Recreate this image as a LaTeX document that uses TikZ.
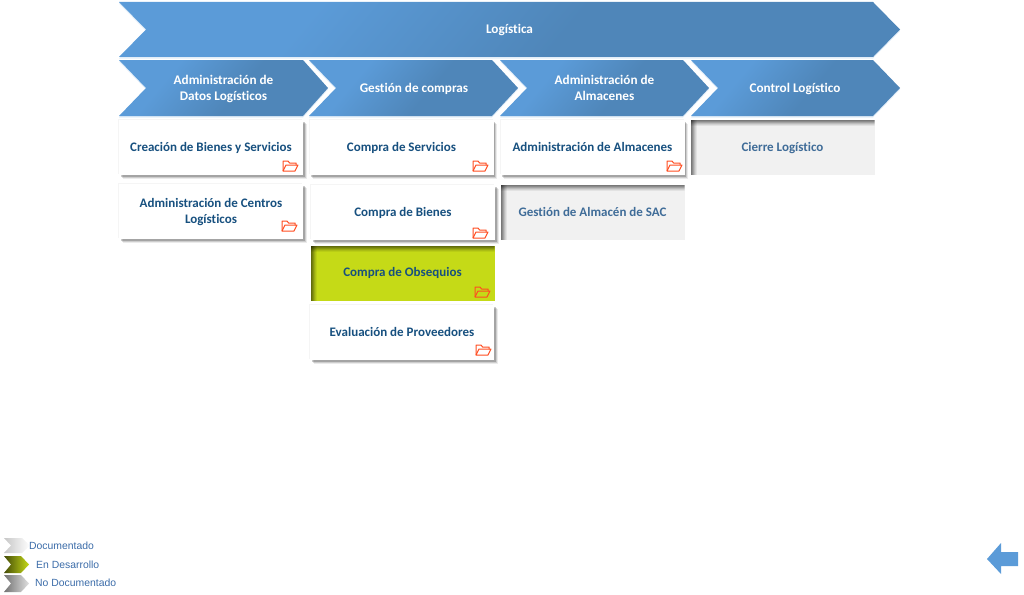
\documentclass[tikz,border=0pt]{standalone}
\usepackage{fontspec}
\setmainfont[Ligatures=NoCommon]{Carlito}
\newfontfamily\legendfont{Liberation Sans}
\usetikzlibrary{shadows}
\definecolor{chevlight}{HTML}{5B9BD8}
\definecolor{chevdark}{HTML}{4F86B9}
\definecolor{txtdark}{HTML}{17507F}
\definecolor{txtgrey}{HTML}{3F6C98}
\definecolor{boxgrey}{HTML}{F1F1F1}
\definecolor{boxgreen}{HTML}{C5DA17}
\definecolor{folderred}{HTML}{FF4D21}
\definecolor{legendtxt}{HTML}{3A6BA8}
\pgfdeclareverticalshading{chevshade}{100bp}{color(0bp)=(chevdark); color(45bp)=(chevdark); color(68bp)=(chevlight); color(100bp)=(chevlight)}
\tikzset{
  softshadow/.style={
    drop shadow={shadow xshift=-1pt,shadow yshift=1pt,fill=black,opacity=0.04},
    drop shadow={shadow xshift=3.5pt,shadow yshift=-3.5pt,fill=black,opacity=0.08},
    drop shadow={shadow xshift=2.5pt,shadow yshift=-2.5pt,fill=black,opacity=0.13},
    drop shadow={shadow xshift=1.5pt,shadow yshift=-1.5pt,fill=black,opacity=0.20}},
  innershade/.style={path picture={
    \foreach \i/\o in {0/.50,1/.42,2/.32,3/.22,4/.13,5/.06}{
      \fill[black,opacity=\o] ([yshift=-\i pt]path picture bounding box.north west) rectangle ([yshift=-\i pt-1pt]path picture bounding box.north east);
      \fill[black,opacity=\o] ([xshift=\i pt]path picture bounding box.north west) rectangle ([xshift=\i pt+1pt]path picture bounding box.south west);
    }}},
  chevblue/.style={shading=chevshade,shading angle=50,
    drop shadow={shadow xshift=0pt,shadow yshift=-1.5pt,fill=chevlight!25!white,opacity=0.7}},
  chevtext/.style={text=white,align=center,font=\fontsize{13.2}{16}\selectfont\bfseries},
  boxbase/.style={minimum width=184pt,minimum height=55pt,inner sep=0pt,align=center,
    text height=11pt,text depth=3.5pt,font=\fontsize{13}{16}\selectfont\bfseries},
  boxdoc/.style={boxbase,fill=white,text=txtdark,softshadow},
  boxnone/.style={boxbase,fill=boxgrey,text=txtgrey,innershade},
  boxdev/.style={boxbase,fill=boxgreen,text=txtdark,innershade},
  legendtext/.style={text=legendtxt,inner sep=0pt,font=\fontsize{10.4}{12}\legendfont},
  folderico/.pic={
    \draw[folderred,line width=1pt,line join=round]
      (0,11) -- (0,1) -- (5,1) -- (6.5,3) -- (13,3) -- (13,5);
    \draw[folderred,line width=1pt,line join=round] (0,11) -- (3,5) -- (15,5) -- (12,11) -- cycle;
  }
}
\begin{document}
\begin{tikzpicture}[x=1pt,y=-1pt]
  \useasboundingbox (0,0) rectangle (1024,594);
  \draw[chevblue,draw=none] (119,2) -- (873,2) -- (900,29.5) -- (873,57) -- (119,57) -- (146,29.5) -- cycle;
  \node[chevtext] at (509.5,30) (logistica) {Logística};

  \draw[chevblue,draw=none] (119,60) -- (303,60) -- (328,88) -- (303,116) -- (119,116) -- (146,88) -- cycle;
  \draw[chevblue,draw=none] (309,60) -- (492,60) -- (518,88) -- (492,116) -- (309,116) -- (336,88) -- cycle;
  \draw[chevblue,draw=none] (500,60) -- (683,60) -- (709,88) -- (683,116) -- (500,116) -- (527,88) -- cycle;
  \draw[chevblue,draw=none] (691,60) -- (873,60) -- (900,88) -- (873,116) -- (691,116) -- (718,88) -- cycle;
  \node[chevtext] at (223.5,89) (datos) {Administración de\\Datos Logísticos};
  \node[chevtext] at (414,89) (compras) {Gestión de compras};
  \node[chevtext] at (604.5,87.5) (almacenes) {Administración de\\Almacenes};
  \node[chevtext] at (795,89) (control) {Control Logístico};

  \node[boxdoc] at (211,147.5) (creacion) {Creación de Bienes y Servicios};
  \node[boxdoc,text height=26pt,text depth=3pt] at (211,211.5) (centros) {Administración de Centros\\Logísticos};
  \node[boxdoc] at (401.5,147.5) (servicios) {Compra de Servicios};
  \node[boxdoc] at (403,212.5) (bienes) {Compra de Bienes};
  \node[boxdev] at (402.5,273) (obsequios) {Compra de Obsequios};
  \node[boxdoc] at (402,332.5) (proveedores) {Evaluación de Proveedores};
  \node[boxdoc] at (592.5,147.5) (admalm) {Administración de Almacenes};
  \node[boxnone] at (592.5,212.5) (sac) {Gestión de Almacén de SAC};
  \node[boxnone] at (782.5,147.5) (cierre) {Cierre Logístico};

  \pic at (283,160) {folderico};
  \pic at (282,220) {folderico};
  \pic at (473,160) {folderico};
  \pic at (473,227) {folderico};
  \pic at (475,286) {folderico};
  \pic at (476,344) {folderico};
  \pic at (667,160) {folderico};

  \shade[left color=black!22,middle color=white,right color=white] (4,538) -- (22,538) -- (30,545.5) -- (22,553) -- (4,553) -- (11,545.5) -- cycle;
  \shade[left color=boxgreen!35!black,middle color=boxgreen,right color=boxgreen] (4,556) -- (21,556) -- (29,564.5) -- (21,573) -- (4,573) -- (11,564.5) -- cycle;
  \shade[left color=black!55,middle color=black!20,right color=black!12] (4,575) -- (21,575) -- (29,583.5) -- (21,592) -- (4,592) -- (11,583.5) -- cycle;
  \node[legendtext,anchor=west] at (29,546) (ldoc) {Documentado};
  \node[legendtext,anchor=west] at (36,565) (ldev) {En Desarrollo};
  \node[legendtext,anchor=west] at (35,583) (lnone) {No Documentado};

  \fill[chevlight] (1018,552) -- (1001,552) -- (1001,543) -- (987,559) -- (1001,574) -- (1001,566) -- (1018,566) -- cycle;
\end{tikzpicture}
\end{document}
